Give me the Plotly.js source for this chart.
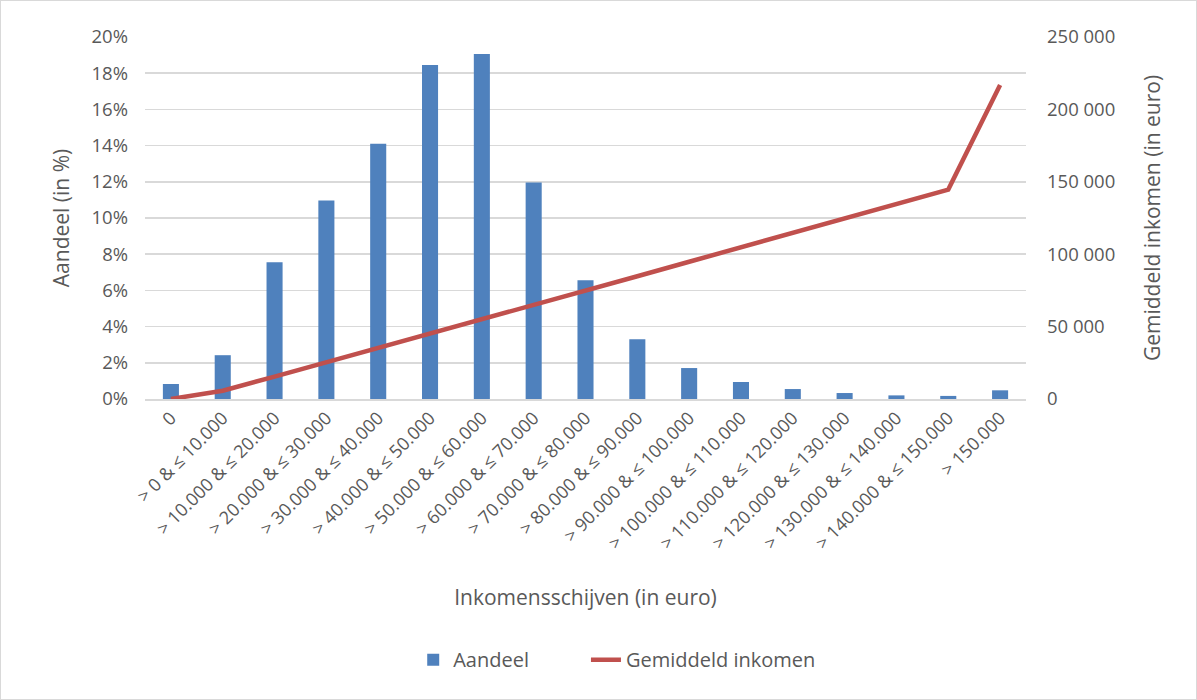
<!DOCTYPE html>
<html><head><meta charset="utf-8">
<script src="https://cdn.plot.ly/plotly-3.0.1.min.js"></script>
<style>body{margin:0;background:#fff}#c{width:1195px;height:698px;border:1px solid #d9d9d9}</style>
</head><body><div id="c"></div>
<script>
const categories = ["0","> 0 & ≤ 10.000","> 10.000 & ≤ 20.000","> 20.000 & ≤ 30.000","> 30.000 & ≤ 40.000","> 40.000 & ≤ 50.000","> 50.000 & ≤ 60.000","> 60.000 & ≤ 70.000","> 70.000 & ≤ 80.000","> 80.000 & ≤ 90.000","> 90.000 & ≤ 100.000","> 100.000 & ≤ 110.000","> 110.000 & ≤ 120.000","> 120.000 & ≤ 130.000","> 130.000 & ≤ 140.000","> 140.000 & ≤ 150.000","> 150.000"];
const aandeel = [0.83, 2.42, 7.55, 10.96, 14.1, 18.45, 19.06, 11.96, 6.56, 3.3, 1.71, 0.94, 0.55, 0.33, 0.2, 0.17, 0.48];
const gemiddeldInkomen = [0, 5700, 15500, 25300, 35200, 45100, 55000, 65000, 74900, 84800, 94800, 104700, 114700, 124600, 134600, 144600, 216900];
const leftTicks = [0,2,4,6,8,10,12,14,16,18,20];
const leftTickText = ["0%","2%","4%","6%","8%","10%","12%","14%","16%","18%","20%"];
const rightTicks = [0,50000,100000,150000,200000,250000];
const rightTickText = ["0","50 000","100 000","150 000","200 000","250 000"];

const font = {family:"Open Sans, Liberation Sans, sans-serif", color:"#595959"};
const f = s => Object.assign({size:s}, font);
const pad = "\u00a0".repeat(10);
const data = [
 {type:"bar", x:categories, y:aandeel, name:"Aandeel" + pad, marker:{color:"#4f81bd"}},
 {type:"scatter", mode:"lines", x:categories, y:gemiddeldInkomen, name:"Gemiddeld inkomen", yaxis:"y2",
  line:{color:"#c0504d", width:4.5}}
];
const layout = {
 width:1195, height:698, paper_bgcolor:"#fff", plot_bgcolor:"#fff",
 margin:{l:144, r:170, t:36, b:300},
 font:f(16),
 bargap:0.69, showlegend:true,
 legend:{orientation:"h", x:0.536, xanchor:"center", y:-0.72, yanchor:"middle", font:f(20), traceorder:"normal"},
 xaxis:{tickangle:-45, tickfont:f(18), showgrid:false, showline:true, linecolor:"#d9d9d9", linewidth:1.5, ticks:"",
   automargin:false, title:{text:"Inkomensschijven (in euro)", font:f(21), standoff:37}},
 yaxis:{range:[0,20], tickvals:leftTicks, ticktext:leftTickText, tickfont:f(18.5), gridcolor:"#d9d9d9", gridwidth:1.5, zeroline:false, ticks:"",
   ticklabelstandoff:16, automargin:false,
   title:{text:"Aandeel (in %)", font:f(21), standoff:16}},
 yaxis2:{range:[0,250000], overlaying:"y", side:"right", tickvals:rightTicks, ticktext:rightTickText, showgrid:false, zeroline:false,
   tickfont:f(18.5), ticks:"", ticklabelstandoff:20, automargin:false,
   title:{text:"Gemiddeld inkomen (in euro)", font:f(21), standoff:31}}
};
Plotly.newPlot("c", data, layout, {displayModeBar:false, staticPlot:true});
</script></body></html>
